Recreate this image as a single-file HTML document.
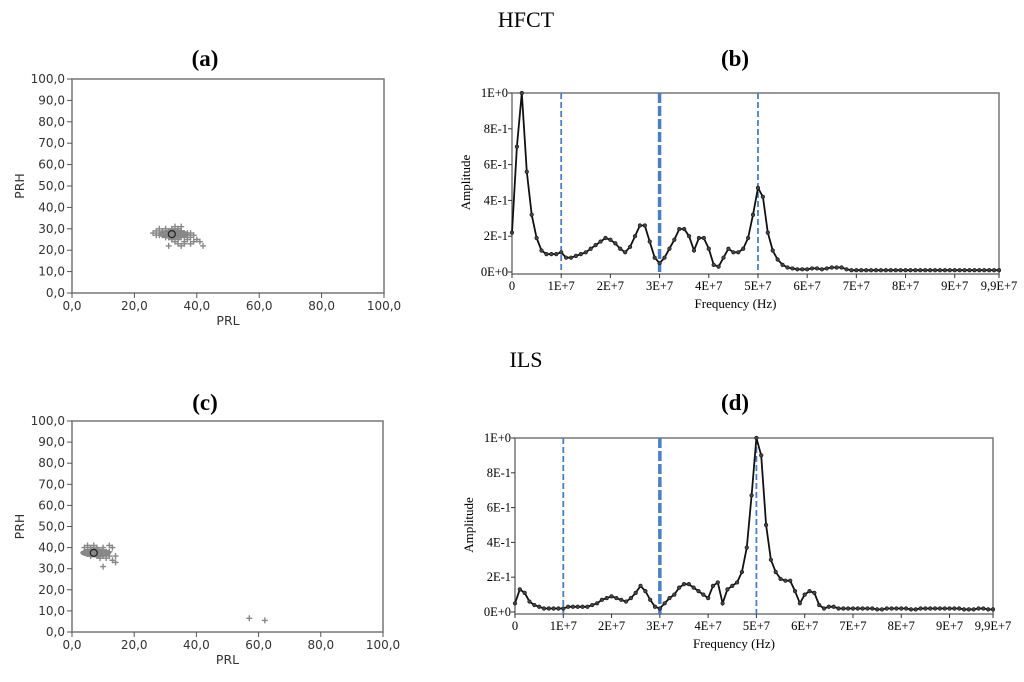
<!DOCTYPE html>
<html><head><meta charset="utf-8"><style>
body{margin:0;background:#fff;width:1024px;height:682px;overflow:hidden}
svg{display:block}
.t{font-family:"Liberation Serif",serif}
.s{font-family:"DejaVu Sans","Liberation Sans",sans-serif}
</style></head><body>
<svg id="root" width="1024" height="682" xmlns="http://www.w3.org/2000/svg">
<text class="t" x="526" y="27" font-size="22" text-anchor="middle">HFCT</text>
<text class="t" x="205" y="66" font-size="23" font-weight="bold" text-anchor="middle">(a)</text>
<text class="t" x="735" y="66" font-size="23" font-weight="bold" text-anchor="middle">(b)</text>
<text class="t" x="526" y="367" font-size="22" text-anchor="middle">ILS</text>
<text class="t" x="205" y="410" font-size="23" font-weight="bold" text-anchor="middle">(c)</text>
<text class="t" x="735" y="410" font-size="23" font-weight="bold" text-anchor="middle">(d)</text>
</svg>
<script>
const scatterTicks=["0,0","20,0","40,0","60,0","80,0","100,0"];
const scatterYTicks=["0,0","10,0","20,0","30,0","40,0","50,0","60,0","70,0","80,0","90,0","100,0"];
const ptsA=[[27,29],[28,30],[29,29],[30,28],[31,27],[32,28],[33,29],[34,30],[35,29],[36,28],[37,27],[38,26],[39,27],[40,25],[41,24],[42,22],[31,22],[35,22],[33,24],[36,24],[38,23],[30,26],[29,27],[28,28],[26,28],[27,27],[32,26],[34,26],[35,26],[34,27],[33,27],[31,29],[32,30],[33,31],[35,31],[34,25],[36,26],[37,25],[39,24],[30,30],[29,28],[31,26],[32,25],[33,26],[36,27],[37,28],[38,28],[28,27],[30,27],[32,29],[35,28],[34,23],[36,23]];
const centerA=[32,27.5];
const ptsC=[[4,38],[5,39],[6,40],[7,39],[8,38],[9,37],[10,36],[11,35],[12,36],[13,34],[14,33],[10,31],[12,41],[13,40],[14,36],[10,40],[5,37],[6,36],[7,37],[8,36],[9,38],[11,37],[4,40],[5,41],[7,41],[8,40],[6,38],[9,35],[11,38],[12,38],[57,6.5],[62,5.5]];
const centerC=[7,37.5];
const freqTicks=["0","1E+7","2E+7","3E+7","4E+7","5E+7","6E+7","7E+7","8E+7","9E+7","9,9E+7"];
const ampTicks=["0E+0","2E-1","4E-1","6E-1","8E-1","1E+0"];
const markerFreqs=[1e7,3e7,5e7];
const hfct=[0.22,0.70,1.0,0.56,0.32,0.19,0.12,0.10,0.10,0.10,0.11,0.08,0.08,0.09,0.10,0.11,0.13,0.15,0.17,0.19,0.18,0.16,0.13,0.11,0.14,0.20,0.26,0.26,0.17,0.08,0.05,0.08,0.13,0.18,0.24,0.24,0.20,0.12,0.19,0.19,0.13,0.04,0.03,0.08,0.13,0.11,0.11,0.13,0.19,0.32,0.47,0.42,0.22,0.12,0.07,0.04,0.025,0.02,0.015,0.015,0.015,0.02,0.02,0.015,0.02,0.025,0.025,0.025,0.015,0.01,0.01,0.01,0.01,0.01,0.01,0.01,0.01,0.01,0.01,0.01,0.01,0.01,0.01,0.01,0.01,0.01,0.01,0.01,0.01,0.01,0.01,0.01,0.01,0.01,0.01,0.01,0.01,0.01,0.01,0.01];
const ils=[0.05,0.13,0.11,0.06,0.04,0.03,0.02,0.02,0.02,0.02,0.02,0.03,0.03,0.03,0.03,0.03,0.04,0.05,0.07,0.08,0.09,0.08,0.07,0.06,0.08,0.11,0.15,0.12,0.07,0.03,0.02,0.05,0.08,0.10,0.14,0.16,0.16,0.14,0.12,0.10,0.08,0.15,0.17,0.05,0.13,0.15,0.17,0.23,0.37,0.67,1.0,0.90,0.50,0.30,0.23,0.19,0.18,0.18,0.12,0.05,0.10,0.12,0.11,0.04,0.02,0.03,0.03,0.02,0.02,0.02,0.02,0.02,0.02,0.02,0.02,0.015,0.015,0.02,0.02,0.02,0.02,0.02,0.015,0.015,0.02,0.02,0.02,0.02,0.02,0.02,0.02,0.02,0.02,0.015,0.015,0.015,0.02,0.02,0.015,0.015];

const NS="http://www.w3.org/2000/svg";
const root=document.getElementById('root');
function mk(tag,attrs,parent,txt){const e=document.createElementNS(NS,tag);for(const k in attrs)e.setAttribute(k,attrs[k]);if(txt!==undefined)e.textContent=txt;(parent||root).appendChild(e);return e;}

function scatter(id,L,R,T,B,pts,center){
  const g=mk('g',{});
  
  
  const sx=v=>L+(R-L)*v/100, sy=v=>B-(B-T)*v/100;
  const f=mk('rect',{x:L,y:T,width:R-L,height:B-T,fill:'none',stroke:'#777','stroke-width':1.5},g);
  
  scatterYTicks.forEach((t,i)=>{const y=sy(i*10);mk('line',{x1:L-5,x2:L,y1:y,y2:y,stroke:'#555'},g);
    const e=mk('text',{x:L-7,y:y+4,'font-size':12,'text-anchor':'end',fill:'#333',class:'s'},g,t);
    });
  scatterTicks.forEach((t,i)=>{const x=sx(i*20);mk('line',{x1:x,x2:x,y1:B,y2:B+5,stroke:'#555'},g);
    const e=mk('text',{x:x,y:B+17,'font-size':12,'text-anchor':'middle',fill:'#333',class:'s'},g,t);
    });
  const xl=mk('text',{x:(L+R)/2,y:B+32,'font-size':12.5,'text-anchor':'middle',fill:'#333',class:'s'},g,'PRL');
  
  const yl=mk('text',{x:0,y:0,'font-size':12.5,'text-anchor':'middle',fill:'#333',class:'s',transform:`translate(24,${(T+B)/2}) rotate(-90)`},g,'PRH');
  
  const cx=sx(center[0]),cy=sy(center[1]);
  const blob=mk('ellipse',{cx:cx+2,cy:cy,rx:(R-L)*0.05,ry:(B-T)*0.022,fill:'#888'},g);
  
  pts.forEach(p=>{const x=sx(p[0]),y=sy(p[1]);
    const e=mk('path',{d:`M${x-3},${y}h6M${x},${y-3}v6`,stroke:'#888','stroke-width':1.4},g);
    });
  const c=mk('circle',{cx:cx,cy:cy,r:3.5,fill:'none',stroke:'#222','stroke-width':1.2},g);
  
}
function spectrum(id,L,R,T,B,vals){
  const g=mk('g',{});
  
  
  const fmax=9.9e7;
  const sx=v=>L+(R-L)*v/fmax, sy=v=>B-(B-T)*v;
  const f=mk('rect',{x:L,y:T,width:R-L,height:B-T+2,fill:'none',stroke:'#777','stroke-width':1.5},g);
  
  ampTicks.forEach((t,i)=>{const y=sy(i*0.2);mk('line',{x1:L-4,x2:L,y1:y,y2:y,stroke:'#333'},g);
    const e=mk('text',{x:L-4,y:y+4,'font-size':12.5,'text-anchor':'end',class:'t'},g,t);
    });
  freqTicks.forEach((t,i)=>{const v=i<10?i*1e7:fmax;const x=sx(v);mk('line',{x1:x,x2:x,y1:B+2,y2:B+6,stroke:'#333'},g);
    const e=mk('text',{x:x,y:B+18,'font-size':12.5,'text-anchor':'middle',class:'t'},g,t);
    });
  const xl=mk('text',{x:(L+R)/2-20,y:B+36,'font-size':13,'text-anchor':'middle',class:'t'},g,'Frequency (Hz)');
  
  const yl=mk('text',{x:0,y:0,'font-size':13,'text-anchor':'middle',class:'t',transform:`translate(${L-42},${(T+B)/2}) rotate(-90)`},g,'Amplitude');
  
  markerFreqs.forEach((m,i)=>{const x=sx(m);
    const e=mk('line',{x1:x,x2:x,y1:T,y2:B+2,stroke:'#4a7fc8','stroke-width':i==1?3.5:1.8,'stroke-dasharray':i==1?'10,3':'6,3'},g);
    });
  const d=vals.map((v,i)=>(i?'L':'M')+sx(i*1e6).toFixed(1)+','+sy(v).toFixed(1)).join('');
  const ln=mk('path',{d:d,fill:'none',stroke:'#111','stroke-width':1.8},g);
  
  vals.forEach((v,i)=>{const x=sx(i*1e6),y=sy(v);
    const e=mk('circle',{cx:x,cy:y,r:1.8,fill:'#444',stroke:'#111','stroke-width':0.6},g);
    });
}
scatter('hfct',72,384,79,293,ptsA,centerA);
scatter('ils',72,383,421,632,ptsC,centerC);
spectrum('hfct',512,999,93,272,hfct);
spectrum('ils',515,993,438,612,ils);
</script>
</body></html>
